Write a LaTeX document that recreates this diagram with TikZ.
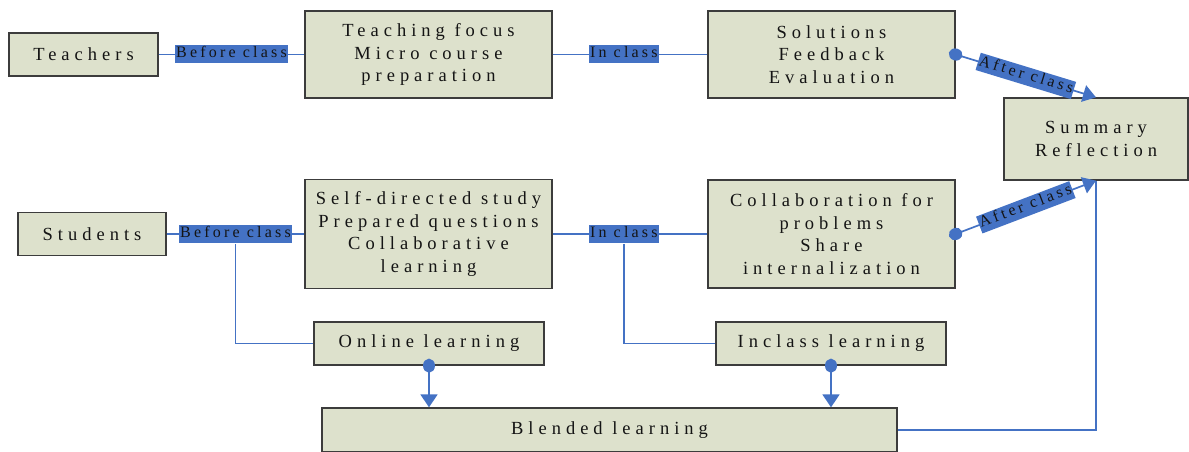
\documentclass[tikz,border=0pt]{standalone}
\usepackage{fontspec}
\setmainfont{Liberation Serif}
\newfontfamily\boxfont[LetterSpace=27]{Liberation Serif}
\newfontfamily\labfont[LetterSpace=20]{Liberation Serif}
\usetikzlibrary{arrows.meta}
\definecolor{boxfill}{HTML}{DDE1CC}
\definecolor{boxline}{HTML}{3C3C3C}
\definecolor{lblue}{HTML}{4472C4}
\definecolor{txt}{HTML}{141414}
\tikzset{
  box/.style={draw=boxline, fill=boxfill, line width=1.3pt, align=center, text=txt,
    font=\boxfont\fontsize{18.5}{22.5}\selectfont, inner sep=0pt},
  lab/.style={fill=lblue, text=txt, font=\labfont\fontsize{16}{18}\selectfont,
    inner xsep=1pt, inner ysep=1.5pt, text height=11pt, text depth=4pt},
  conn/.style={draw=lblue, line width=1.7pt},
  dotarrow/.style={conn, {Circle[length=14pt,width=12pt]}-{Triangle[length=13pt,width=17pt]}, shorten <=-7pt},
}
\begin{document}
\begin{tikzpicture}[x=1pt,y=-1pt]
\useasboundingbox (0,0) rectangle (1189,452);
% boxes
\node[box, minimum width=149pt, minimum height=43pt] (teachers) at (83.5,54.5) {Teachers};
\node[box, minimum width=247pt, minimum height=87pt] (tf) at (428.5,54.5) {Teaching focus\\Micro course\\preparation};
\node[box, minimum width=247pt, minimum height=87pt] (sol) at (831.5,54.5) {Solutions\\Feedback\\Evaluation};
\node[box, minimum width=184pt, minimum height=82pt] (sum) at (1096,139) {Summary\\Reflection};
\node[box, minimum width=148pt, minimum height=43pt] (students) at (92,234) {Students};
\node[box, minimum width=247pt, minimum height=109pt] (sd) at (428.5,234) {Self-directed study\\Prepared questions\\Collaborative\\learning};
\node[box, minimum width=247pt, minimum height=108pt] (col) at (831.5,234) {Collaboration for\\problems\\Share\\internalization};
\node[box, minimum width=230pt, minimum height=43pt] (online) at (429,343.5) {Online learning};
\node[box, minimum width=230pt, minimum height=43pt] (inclass) at (831,343.5) {Inclass learning};
\node[box, minimum width=575pt, minimum height=44pt] (blended) at (609.5,430) {Blended learning};
% connectors
\draw[conn] (teachers.east) -- node[lab, pos=0.5] (bc1) {Before class} (tf.west);
\draw[conn] (tf.east) -- node[lab, pos=0.46] (ic1) {In class} (sol.west);
\draw[conn] (students.east) -- node[lab, pos=0.5] (bc2) {Before class} (sd.west);
\draw[conn] (sd.east) -- node[lab, pos=0.46] (ic2) {In class} (col.west);
\draw[dotarrow] (sol.east) -- node[lab, sloped, pos=0.5] (ac1) {After class} (sum.north);
\draw[dotarrow] (col.east) -- node[lab, sloped, pos=0.5] (ac2) {After class} (sum.south);
\draw[conn] (bc2.south) |- (online.west);
\draw[conn] (ic2.south) |- (inclass.west);
\draw[dotarrow] (online.south) -- (online.south |- blended.north);
\draw[dotarrow] (inclass.south) -- (inclass.south |- blended.north);
\draw[conn] (blended.east) -| (sum.south);
\end{tikzpicture}
\end{document}
